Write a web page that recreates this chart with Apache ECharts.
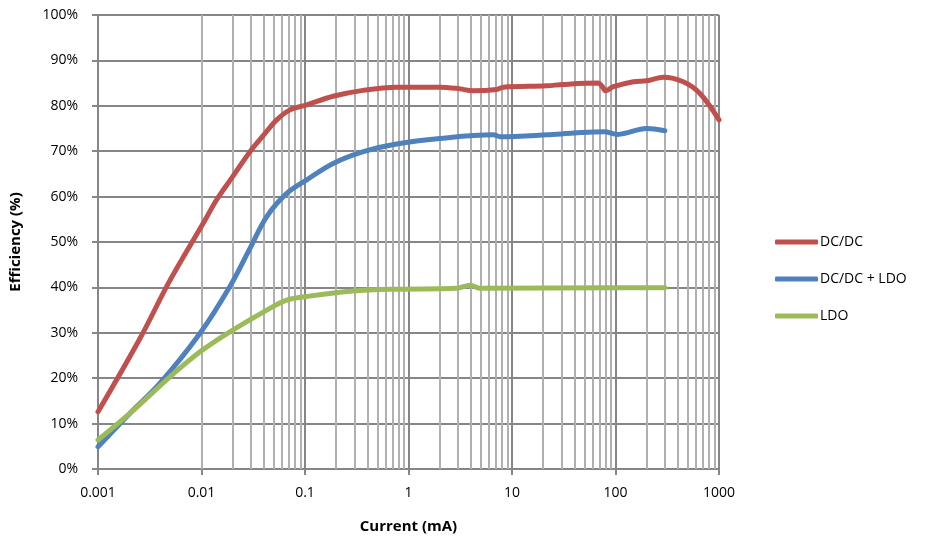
<!DOCTYPE html>
<html>
<head>
<meta charset="utf-8">
<script src="https://cdn.jsdelivr.net/npm/echarts@6/dist/echarts.min.js"></script>
<style>
html,body{margin:0;padding:0;background:#fff;}
#chart{width:940px;height:549px;}
</style>
</head>
<body>
<div id="chart"></div>
<script>
// ---- data (x in mA, y in %) ----
const seriesNames = ['DC/DC', 'DC/DC + LDO', 'LDO'];

const dcdcX = [0.001, 0.00255, 0.00497, 0.0108, 0.014, 0.02, 0.0294, 0.04, 0.0533, 0.0717, 0.104, 0.187, 0.363, 0.769, 2.0, 3.0, 4.23, 7.11, 8.24, 21.6, 31.1, 68.2, 73.5, 80.9, 95.2, 149, 200, 290, 452, 655, 1000];
const dcdcY = [12.6, 28.8, 41.6, 54.8, 59.3, 64.4, 69.9, 73.6, 76.9, 79.1, 80.2, 82.1, 83.4, 84.1, 84.1, 83.8, 83.3, 83.6, 84.1, 84.4, 84.7, 85.0, 84.4, 83.3, 84.2, 85.3, 85.5, 86.3, 85.3, 82.7, 76.9];

const dcdcLdoX = [0.001, 0.00204, 0.00397, 0.00968, 0.0188, 0.0294, 0.0427, 0.0666, 0.104, 0.187, 0.366, 0.769, 2.01, 6.6, 7.7, 21.6, 39.6, 77.8, 105, 200, 300];
const dcdcLdoY = [4.9, 12.3, 18.9, 29.9, 40.2, 48.6, 55.6, 60.7, 63.7, 67.3, 69.9, 71.6, 72.8, 73.6, 73.2, 73.6, 74.0, 74.3, 73.7, 75.0, 74.5];

const ldoX = [0.001, 0.00204, 0.00496, 0.00968, 0.0188, 0.0427, 0.0666, 0.104, 0.292, 0.769, 2.93, 3.95, 4.94, 95, 300];
const ldoY = [6.4, 12.3, 20.3, 25.8, 30.2, 35.0, 37.2, 38.0, 39.2, 39.6, 39.8, 40.5, 39.8, 39.9, 39.9];

const xTickLabels = ['0.001', '0.01', '0.1', '1', '10', '100', '1000'];
const decades = [0.001, 0.01, 0.1, 1, 10, 100];
const minorMultipliers = [2, 3, 4, 5, 6, 7, 8, 9];

const colors = ['#C0504D', '#4F81BD', '#9BBB59'];
const FONT = "'Open Sans', 'Noto Sans', sans-serif";

function pairs(xs, ys) { return xs.map((x, i) => [x, ys[i]]); }

const minorLines = [];
decades.forEach(d => minorMultipliers.forEach(m => minorLines.push({ xAxis: d * m })));

const chart = echarts.init(document.getElementById('chart'), null, { renderer: 'canvas' });

const lineSeries = [[dcdcX, dcdcY], [dcdcLdoX, dcdcLdoY], [ldoX, ldoY]].map((s, i) => ({
  name: seriesNames[i],
  type: 'line',
  data: pairs(s[0], s[1]),
  showSymbol: false,
  symbol: 'none',
  smooth: 0.35,
  z: 5,
  lineStyle: { color: colors[i], width: 5, cap: 'round', join: 'round' },
  itemStyle: { color: colors[i] }
}));

chart.setOption({
  animation: false,
  backgroundColor: '#ffffff',
  grid: { left: 98, right: 221, top: 15, bottom: 80 },
  legend: {
    data: seriesNames,
    orient: 'vertical',
    left: 770,
    top: 230,
    itemWidth: 43,
    itemHeight: 5,
    itemGap: 23,
    icon: 'roundRect',
    textStyle: { fontFamily: FONT, fontSize: 14, color: '#000', padding: [0, 0, 0, -3] }
  },
  xAxis: {
    type: 'log',
    logBase: 10,
    min: 0.001,
    max: 1000,
    name: 'Current (mA)',
    nameLocation: 'middle',
    nameGap: 50,
    nameTextStyle: { fontFamily: FONT, fontSize: 15, fontWeight: 'bold', color: '#000' },
    axisLine: { show: true, onZero: false, lineStyle: { color: '#868686', width: 2 } },
    axisTick: { show: true, length: 6, lineStyle: { color: '#868686', width: 2 } },
    axisLabel: {
      margin: 17,
      fontFamily: FONT, fontSize: 14, color: '#000',
      formatter: v => xTickLabels[Math.round(Math.log10(v)) + 3]
    },
    splitLine: { show: true, lineStyle: { color: '#868686', width: 2 } },
    minorTick: { show: false },
    minorSplitLine: { show: false }
  },
  yAxis: {
    type: 'value',
    min: 0,
    max: 100,
    interval: 10,
    name: 'Efficiency (%)',
    nameLocation: 'middle',
    nameGap: 75,
    nameTextStyle: { fontFamily: FONT, fontSize: 15, fontWeight: 'bold', color: '#000' },
    axisLine: { show: true, lineStyle: { color: '#868686', width: 2 } },
    axisTick: { show: true, length: 6, lineStyle: { color: '#868686', width: 2 } },
    axisLabel: { margin: 20, fontFamily: FONT, fontSize: 14, color: '#000', formatter: '{value}%' },
    splitLine: { show: true, lineStyle: { color: '#868686', width: 2 } }
  },
  series: [{
    type: 'line',
    data: [],
    silent: true,
    z: 1,
    markLine: {
      silent: true,
      symbol: ['none', 'none'],
      label: { show: false },
      lineStyle: { color: '#b0b0b0', width: 2, type: 'solid' },
      emphasis: { disabled: true },
      data: minorLines
    }
  }].concat(lineSeries)
});
</script>
</body>
</html>
